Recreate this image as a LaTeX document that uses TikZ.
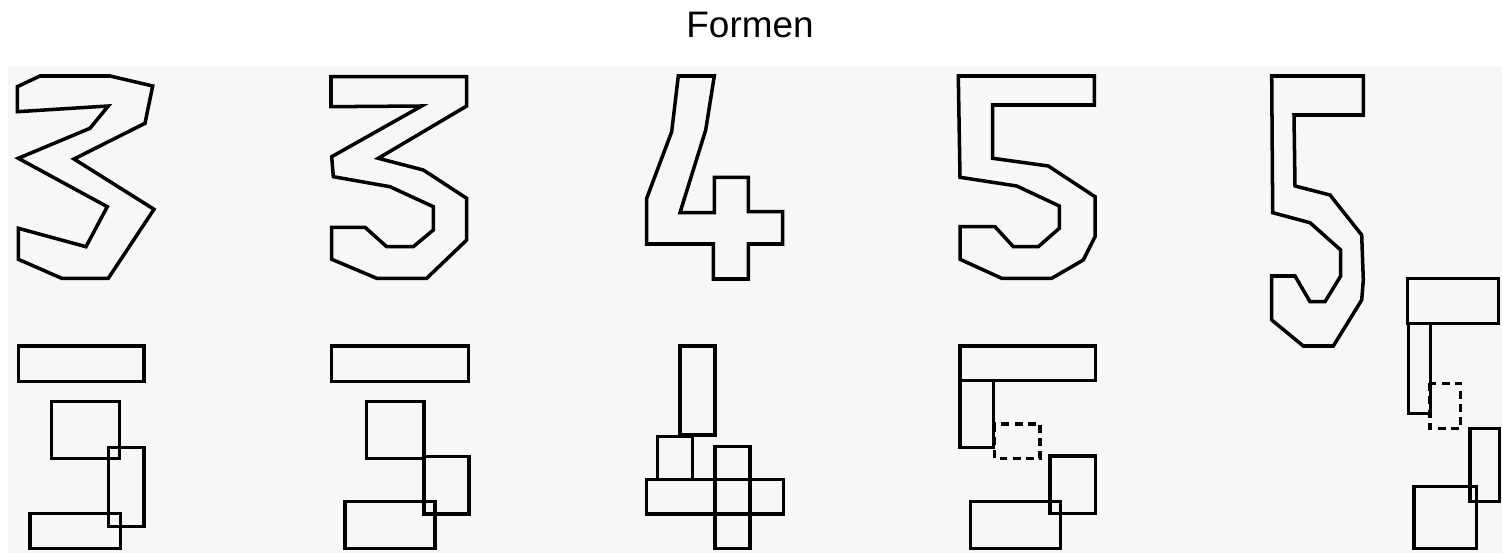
\documentclass[tikz,border=0pt]{standalone}
\usepackage{fontspec}
\setmainfont{Liberation Sans}
\usepackage{tikz}

\begin{document}
\begin{tikzpicture}[
    x=0.02cm, y=-0.02cm,
    outline/.style={draw=black, line width=2pt, line join=miter},
    part/.style={draw=black, line width=2pt},
    hidden/.style={draw=black, line width=2pt, dash pattern=on 4.5pt off 3pt},
    panel/.style={fill=gray!6, draw=none}
]
    \useasboundingbox (0,0) rectangle (1502,553);

    % --- Title and background ---
    \fill[white] (0,0) rectangle (1502,553);
    \fill[panel] (8,66) rectangle (1502,553);
    \node[anchor=base, font=\fontsize{21}{25}\selectfont, inner sep=0] (title) at (750,37.5) {Formen};

    % --- Digit 3 (first) ---
    \draw[outline] (17.3,86.7) -- (40,76) -- (110,76) -- (152.7,86) -- (145,123.3)
        -- (74,159) -- (154,209.3) -- (108.3,278.3) -- (61.7,278.3) -- (18.3,259.3)
        -- (18.3,228.3) -- (86,246.7) -- (107.3,206.7) -- (18.3,158.3) -- (90,128.3)
        -- (108.3,106) -- (17.3,111.7) -- cycle;
    \draw[part] (18.3,346) rectangle (144,381.7);
    \draw[part] (51.7,401.7) rectangle (119.3,458.3);
    \draw[part] (108.3,447.3) rectangle (144,526.7);
    \draw[part] (30,513.3) rectangle (120.7,548.3);

    % --- Digit 3 (second) ---
    \draw[outline] (331,76.7) -- (466.7,76.7) -- (466.7,106) -- (378.3,158.3)
        -- (423.3,170) -- (466.7,198.3) -- (466.7,240) -- (426.7,278.3) -- (376.7,278.3)
        -- (331.7,259.3) -- (331.7,227.3) -- (365,227.3) -- (386.7,246.7) -- (413.3,246.7)
        -- (433.3,230) -- (433.3,206.7) -- (390,186.7) -- (333.3,176.7) -- (331.7,156.7)
        -- (421.7,106) -- (331,106.7) -- cycle;
    \draw[part] (331.7,346) rectangle (468.3,381.7);
    \draw[part] (366.7,401.7) rectangle (424,458.3);
    \draw[part] (424,456.7) rectangle (469,514);
    \draw[part] (345,501.7) rectangle (435,548.3);

    % --- Digit 4 ---
    \draw[outline] (678.3,76) -- (714.3,76) -- (705.7,130) -- (680,212.7) -- (714.3,212.7)
        -- (714.3,177.3) -- (748.3,177.3) -- (748.3,211.7) -- (782.7,211.7) -- (782.7,244)
        -- (748.3,244) -- (748.3,279) -- (713.3,279) -- (713.3,244) -- (646.7,244)
        -- (646.7,198.3) -- (671.7,131.7) -- cycle;
    \draw[part] (680,346) rectangle (715,435);
    \draw[part] (657.7,436.7) rectangle (692.7,479.3);
    \draw[part] (646.7,479.3) rectangle (783.3,514);
    \draw[part] (715,446.7) rectangle (750,548.3);

    % --- Digit 5 (first) ---
    \draw[outline] (958.3,76) -- (1094.3,76) -- (1094.3,105) -- (992.7,105) -- (992.7,158.3)
        -- (1048.3,166) -- (1095,196.7) -- (1095,236.7) -- (1083.3,260) -- (1051.7,278.3)
        -- (1001.7,278.3) -- (960,259.3) -- (960,226.7) -- (995,226.7) -- (1013.3,246.7)
        -- (1038.3,246.7) -- (1059.3,228.3) -- (1059.3,206) -- (1016.7,186) -- (960,177.3)
        -- cycle;
    \draw[part] (960,346) rectangle (1095.7,380.7);
    \draw[part] (960,380.7) rectangle (993.3,447.3);
    \draw[hidden] (994.3,424) rectangle (1040,458.3);
    \draw[part] (1050,456) rectangle (1095.7,513.3);
    \draw[part] (970.7,501.7) rectangle (1060.7,548.3);

    % --- Digit 5 (second) ---
    \draw[outline] (1271.7,76) -- (1363.3,76) -- (1363.3,115) -- (1294,115) -- (1295,186)
        -- (1330,195) -- (1361.7,235) -- (1363.3,280) -- (1361.7,300) -- (1333.3,346)
        -- (1303.3,346) -- (1271.7,320) -- (1271.7,276) -- (1295,276) -- (1310,301.7)
        -- (1325,301.7) -- (1340.7,276) -- (1340.7,250) -- (1310,222.7) -- (1272.7,212.7)
        -- cycle;
    \draw[part] (1407.3,278.3) rectangle (1498.3,323.3);
    \draw[part] (1408.3,323.3) rectangle (1430.7,413.3);
    \draw[hidden] (1430,383.3) rectangle (1460.7,428.3);
    \draw[part] (1470,428.3) rectangle (1499.3,501.7);
    \draw[part] (1414,486.7) rectangle (1476.7,548.3);
\end{tikzpicture}
\end{document}
